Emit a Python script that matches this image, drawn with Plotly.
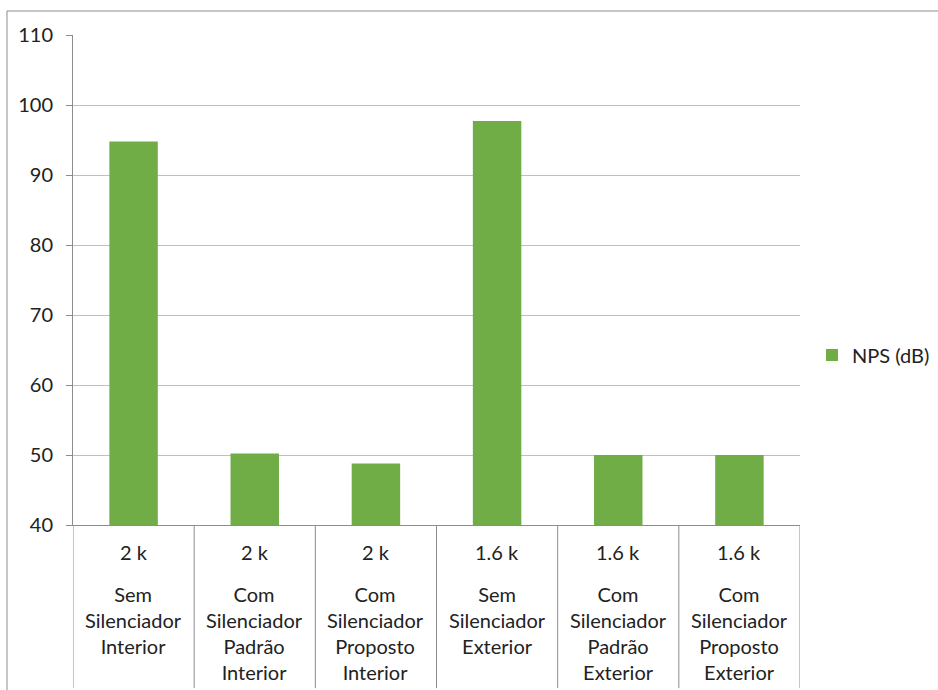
import plotly.graph_objects as go

# chart data
frequencies = ["2 k", "2 k", "2 k", "1.6 k", "1.6 k", "1.6 k"]
conditions = [
    "Sem Silenciador Interior",
    "Com Silenciador Padrão Interior",
    "Com Silenciador Proposto Interior",
    "Sem Silenciador Exterior",
    "Com Silenciador Padrão Exterior",
    "Com Silenciador Proposto Exterior",
]
nps_db = [94.8, 50.2, 48.8, 97.7, 50.0, 50.0]
series_name = "NPS (dB)"

FONT = "Lato"
TEXT = "#222222"
AXIS = "#8c8c8c"
GRID = "#bfbfbf"
GREEN = "#70ad47"

fig = go.Figure()
fig.add_trace(go.Bar(
    x=conditions,
    y=nps_db,
    name=series_name,
    marker=dict(color=GREEN, line=dict(width=0)),
))

# two-level category labels drawn under the axis
for freq, cond in zip(frequencies, conditions):
    fig.add_annotation(
        x=cond, xref="x", y=0, yref="paper", yanchor="middle",
        yshift=-27, text=freq, showarrow=False,
        font=dict(family=FONT, size=20, color=TEXT),
    )
    fig.add_annotation(
        x=cond, xref="x", y=0, yref="paper", yanchor="top",
        yshift=-55, text="<br>".join(cond.split(" ")), showarrow=False,
        font=dict(family=FONT, size=20, color=TEXT),
    )

# category dividers below the axis
for i in range(len(conditions) + 1):
    fig.add_shape(
        type="line", xref="x", yref="paper",
        x0=i - 0.5, x1=i - 0.5, y0=0, y1=-0.333,
        line=dict(color=AXIS, width=1),
    )

# outer chart border (extends past the window edges)
fig.add_shape(
    type="rect", xref="paper", yref="paper",
    x0=-0.0908, x1=1.3, y0=1.049, y1=-0.5,
    line=dict(color="#8c8c8c", width=1), layer="below",
)

fig.update_xaxes(
    showticklabels=False, showline=True, linecolor=AXIS,
    ticks="", showgrid=False, range=[-0.5, 5.5],
)
fig.update_yaxes(
    range=[40, 110], dtick=10, showgrid=True, gridcolor=GRID,
    showline=True, linecolor=AXIS, ticks="outside", ticklen=6,
    tickcolor=AXIS, zeroline=False, ticklabelstandoff=9,
    tickfont=dict(family=FONT, size=20, color=TEXT),
)
fig.update_layout(
    width=938, height=690,
    margin=dict(l=73, r=138, t=35, b=165, autoexpand=False),
    plot_bgcolor="white", paper_bgcolor="white",
    bargap=0.6,
    showlegend=True,
    legend=dict(
        x=1.0165, y=0.347, xanchor="left", yanchor="middle",
        itemwidth=30,
        font=dict(family=FONT, size=20, color=TEXT),
    ),
)

fig.write_html(
    "out.html",
    config={"displayModeBar": False},
    post_script="document.body.style.margin='0';",
)
